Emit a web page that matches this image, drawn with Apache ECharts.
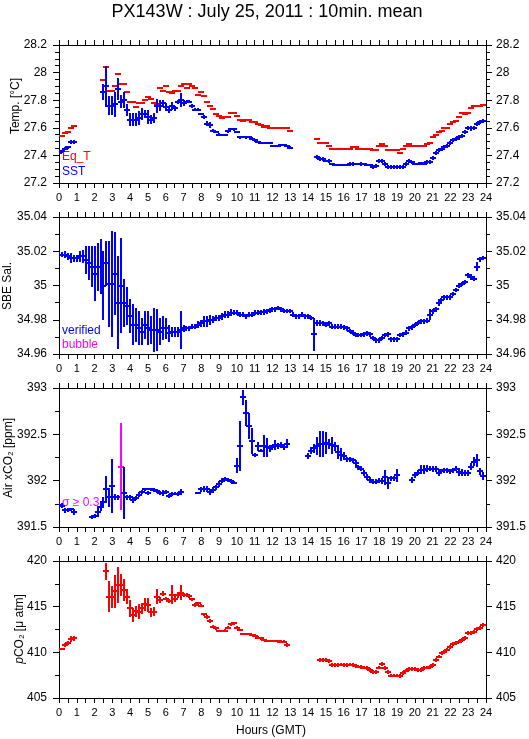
<!DOCTYPE html>
<html>
<head>
<meta charset="utf-8">
<script src="https://cdn.jsdelivr.net/npm/echarts@6/dist/echarts.min.js"></script>
<style>
  html, body { margin: 0; padding: 0; background: #fff; }
  #chart { width: 529px; height: 739px; }
</style>
</head>
<body>
<div id="chart"></div>
<script>
// 10 minute means, index k -> hour k/6 (144 slots, null = no data)
var STEP = 1 / 6;

var eqT = [
  27.54, 27.54, 27.56, 27.57, 27.60, 27.61, null, null, null, null, null, null,
  null, null, null, 27.95, 28.04, 27.87, 27.87, 27.905, 27.99, 27.92, 27.92, 27.86,
  27.79, 27.785, 27.75, 27.78, 27.78, 27.805, 27.825, 27.81, 27.78, 27.775, 27.885, 27.865,
  27.905, 27.86, 27.85, 27.87, 27.865, 27.905, 27.92, 27.89, 27.915, 27.905, 27.887, 27.835,
  27.86, 27.827, 27.79, 27.757, 27.733, 27.70, 27.685, 27.67, 27.675, 27.675, 27.71, 27.71,
  27.685, 27.66, 27.65, 27.655, 27.655, 27.64, 27.64, 27.625, 27.62, 27.605, 27.61, 27.595,
  27.595, 27.595, 27.60, 27.60, 27.595, 27.595, 27.575, null, null, null, null, null,
  null, null, null, 27.517, 27.49, 27.49, 27.49, 27.47, 27.45, 27.45, 27.45, 27.45,
  27.45, 27.45, 27.45, 27.46, 27.46, 27.45, 27.45, 27.45, 27.445, 27.445, 27.437, 27.437,
  27.47, 27.485, 27.465, 27.437, 27.437, 27.437, 27.437, 27.42, 27.445, 27.465, 27.485, 27.47,
  27.465, 27.465, 27.465, 27.465, 27.48, 27.49, 27.535, 27.55, 27.57, 27.58, 27.595, 27.60,
  27.625, 27.645, 27.65, 27.68, 27.71, 27.70, 27.71, 27.74, 27.755, 27.76, 27.76, 27.765
];

var sst = [
  27.42, 27.43, 27.45, 27.46, 27.50, 27.50, null, null, null, null, null, null,
  null, null, null, 27.86, 27.90, 27.76, 27.76, 27.77, 27.88, 27.79, 27.80, 27.73,
  27.66, 27.66, 27.66, 27.67, 27.70, 27.70, 27.68, 27.66, 27.67, 27.76, 27.76, 27.78,
  27.75, 27.73, 27.76, 27.74, 27.79, 27.80, 27.78, 27.79, 27.79, 27.76, 27.73, 27.73,
  27.70, 27.68, 27.63, 27.62, 27.58, 27.57, 27.55, 27.55, 27.55, 27.575, 27.59, 27.59,
  27.57, 27.53, 27.53, 27.53, 27.53, 27.52, 27.51, 27.50, 27.49, 27.49, 27.49, 27.49,
  27.47, 27.47, 27.47, 27.475, 27.475, 27.47, 27.455, null, null, null, null, null,
  null, null, null, 27.39, 27.375, 27.375, 27.36, 27.36, 27.335, 27.333, 27.333, 27.333,
  27.333, 27.333, 27.34, 27.34, 27.335, 27.335, 27.34, 27.335, 27.333, 27.33, 27.315, 27.325,
  27.36, 27.36, 27.34, 27.315, 27.315, 27.315, 27.315, 27.315, 27.315, 27.335, 27.36, 27.35,
  27.34, 27.34, 27.345, 27.34, 27.35, 27.355, 27.38, 27.42, 27.44, 27.445, 27.46, 27.47,
  27.49, 27.51, 27.52, 27.53, 27.54, 27.57, 27.60, 27.595, 27.60, 27.63, 27.645, 27.65
];
var sstSd = [
  0.01, 0.01, 0.01, 0.01, 0.015, 0.015, null, null, null, null, null, null,
  null, null, null, 0.06, 0.15, 0.07, 0.07, 0.09, 0.08, 0.05, 0.06, 0.045,
  0.05, 0.045, 0.045, 0.05, 0.04, 0.03, 0.05, 0.03, 0.035, 0.05, 0.04, 0.02,
  0.03, 0.02, 0.03, 0.02, 0.015, 0.05, 0.02, 0.01, 0.01, 0.015, 0.01, 0.01,
  0.01, 0.015, 0.02, 0.02, 0.01, 0.01, 0.01, 0.005, 0.005, 0.01, 0.005, 0.01,
  0.01, 0.01, 0, 0.01, 0, 0.01, 0.01, 0, 0.01, 0.01, 0.01, 0.01,
  0, 0, 0, 0.01, 0.01, 0, 0.012, null, null, null, null, null,
  null, null, null, 0.015, 0.015, 0.015, 0.01, 0.015, 0, 0, 0, 0,
  0, 0, 0.015, 0.015, 0, 0, 0.015, 0, 0, 0.01, 0.015, 0.015,
  0.015, 0.015, 0.015, 0.012, 0.012, 0.012, 0.012, 0.012, 0.012, 0.015, 0.015, 0.01,
  0, 0, 0, 0, 0.015, 0.015, 0.015, 0.015, 0.015, 0.015, 0.015, 0.015,
  0.015, 0.015, 0.015, 0.015, 0.015, 0.015, 0.015, 0.015, 0.015, 0.015, 0.015, 0.015
];

var sal = [
  35.018, 35.018, 35.018, 35.017, 35.016, 35.016, 35.016, 35.017, 35.017, 35.015, 35.013, 35.011,
  35.007, 35.011, 35.011, 35.000, 35.013, 35.001, 35.001, 35.007, 34.990, 35.000, 34.990, 34.988,
  34.982, 34.977, 34.977, 34.975, 34.973, 34.977, 34.975, 34.974, 34.974, 34.974, 34.973, 34.975,
  34.975, 34.972, 34.973, 34.973, 34.973, 34.974, 34.975, 34.975, 34.975, 34.976, 34.976, 34.977,
  34.978, 34.979, 34.979, 34.980, 34.980, 34.981, 34.981, 34.982, 34.983, 34.983, 34.984, 34.984,
  34.984, 34.983, 34.983, 34.982, 34.983, 34.983, 34.984, 34.984, 34.9843, 34.9845, 34.985, 34.9855,
  34.986, 34.986, 34.987, 34.986, 34.985, 34.985, 34.985, 34.983, 34.982, 34.982, 34.983, 34.982,
  34.982, 34.981, 34.9715, 34.978, 34.978, 34.978, 34.977, 34.978, 34.976, 34.976, 34.976, 34.976,
  34.9755, 34.975, 34.9735, 34.9725, 34.971, 34.971, 34.971, 34.9715, 34.972, 34.9715, 34.9695, 34.968,
  34.968, 34.9695, 34.971, 34.9715, 34.9685, 34.9685, 34.9685, 34.971, 34.9715, 34.9725, 34.975, 34.9755,
  34.977, 34.978, 34.979, 34.979, 34.9795, 34.983, 34.985, 34.986, 34.9895, 34.9915, 34.993, 34.993,
  34.993, 34.995, 34.9973, 35.000, 35.001, 35.002, 35.006, 35.005, 35.004, 35.011, 35.0153, 35.016
];
var salSd = [
  0.0013, 0.0013, 0.002, 0.002, 0.003, 0.002, 0.002, 0.003, 0.004, 0.008, 0.010, 0.012,
  0.016, 0.014, 0.016, 0.020, 0.013, 0.025, 0.031, 0.024, 0.027, 0.028, 0.014, 0.011,
  0.010, 0.012, 0.010, 0.010, 0.008, 0.008, 0.010, 0.008, 0.013, 0.012, 0.008, 0.007,
  0.006, 0.005, 0.003, 0.003, 0.003, 0.011, 0.002, 0.0015, 0.0015, 0.0015, 0.0015, 0.002,
  0.002, 0.003, 0.003, 0.003, 0.002, 0.002, 0.002, 0.002, 0.002, 0.002, 0.002, 0.0015,
  0.0015, 0.0015, 0.0015, 0.0015, 0.0015, 0.0015, 0.0015, 0.0015, 0.0015, 0.0015, 0.0015, 0.0015,
  0.0013, 0.0013, 0.0013, 0.0013, 0.0013, 0.0013, 0.0013, 0.0013, 0.0013, 0.0013, 0.0013, 0.0013,
  0.0013, 0.0013, 0.0095, 0.0018, 0.0018, 0.0015, 0.0015, 0.0015, 0.0013, 0.0013, 0.0013, 0.0013,
  0.0013, 0.0013, 0.0013, 0.0013, 0.0013, 0.0013, 0.0013, 0.0013, 0.0013, 0.0013, 0.0013, 0.0013,
  0.0013, 0.0013, 0.0013, 0.0013, 0.0013, 0.0013, 0.0013, 0.0013, 0.0013, 0.0013, 0.0013, 0.0013,
  0.0013, 0.0013, 0.0013, 0.0013, 0.0013, 0.003, 0.0015, 0.0013, 0.0015, 0.0013, 0.0013, 0.0013,
  0.0013, 0.0013, 0.0013, 0.0013, 0.0013, 0.0013, 0.0015, 0.0015, 0.0015, 0.0025, 0.0015, 0.0013
];

var xco2 = [
  391.736, 391.73, 391.68, 391.68, 391.69, 391.66, null, null, null, null, null, 391.61,
  391.62, 391.663, 391.717, 391.77, 391.905, 391.82, 391.94, 391.826, 391.82, 392.15, 391.87, 391.82,
  391.82, 391.79, 391.81, 391.85, 391.88, 391.905, 391.87, 391.905, 391.90, 391.89, 391.865, 391.865,
  391.88, 391.833, 391.855, 391.86, 391.855, 391.88, null, null, null, null, null, 391.862,
  391.905, 391.91, 391.91, 391.875, 391.90, 391.927, 391.964, 392.0, 392.017, 392.01, 392.0, 391.98,
  392.16, 392.37, 392.9, 392.73, 392.585, 392.43, 392.28, 392.37, 392.325, 392.375, 392.36, 392.35,
  392.36, 392.386, 392.375, 392.386, 392.36, 392.40, null, null, null, null, null, null,
  392.267, 392.325, 392.35, 392.375, 392.397, 392.40, 392.41, 392.397, 392.38, 392.37, 392.31, 392.28,
  392.267, 392.23, 392.23, 392.22, 392.187, 392.144, 392.13, 392.08, 392.04, 392.007, 391.99, 391.99,
  392.0, 391.995, 392.035, 391.97, 392.025, 392.025, 392.06, null, null, null, null, 392.007,
  392.06, 392.086, 392.12, 392.12, 392.13, 392.13, 392.125, 392.125, 392.086, 392.10, 392.11, 392.11,
  392.10, 392.11, 392.13, 392.095, 392.086, 392.08, 392.08, 392.15, 392.205, 392.22, 392.10, 392.05
];
var xco2Sd = [
  0.05, 0.03, 0.03, 0.02, 0.02, 0.03, null, null, null, null, null, 0.02,
  0.02, 0.06, 0.04, 0.05, 0.15, 0.10, 0.29, 0.03, 0.03, 0.47, 0.28, 0.03,
  0.03, 0.03, 0.02, 0.03, 0.02, 0.02, 0.02, 0.02, 0.02, 0.02, 0.02, 0.03,
  0.02, 0.02, 0.02, 0.02, 0.02, 0.03, null, null, null, null, null, 0.01,
  0.03, 0.03, 0.03, 0.03, 0.03, 0.03, 0.03, 0.03, 0.02, 0.02, 0.02, 0.02,
  0.08, 0.27, 0.08, 0.14, 0.14, 0.14, 0.02, 0.05, 0.02, 0.12, 0.10, 0.04,
  0.03, 0.05, 0.03, 0.03, 0.03, 0.05, null, null, null, null, null, null,
  0.03, 0.04, 0.05, 0.10, 0.14, 0.14, 0.12, 0.05, 0.09, 0.05, 0.08, 0.07,
  0.04, 0.03, 0.03, 0.03, 0.04, 0.03, 0.03, 0.03, 0.03, 0.03, 0.03, 0.03,
  0.03, 0.03, 0.08, 0.06, 0.03, 0.03, 0.07, null, null, null, null, 0.03,
  0.03, 0.03, 0.05, 0.05, 0.04, 0.03, 0.03, 0.03, 0.04, 0.03, 0.03, 0.03,
  0.03, 0.03, 0.03, 0.04, 0.04, 0.03, 0.03, 0.04, 0.05, 0.07, 0.04, 0.04
];

var pco2 = [
  410.33, 410.33, 410.8, 410.99, 411.46, 411.53, null, null, null, null, null, null,
  null, null, null, null, 418.87, 416.08, 416.08, 416.7, 417.35, 417.35, 416.8, 416.08,
  414.8, 414.08, 414.5, 414.44, 414.8, 415.24, 415.17, 414.37, 414.44, 416.08, 415.71, 416.44,
  415.89, 415.6, 416.33, 415.82, 416.26, 416.55, 416.26, 416.33, 416.15, 415.82, 415.17, 415.35,
  415.1, 414.15, 413.9, 413.42, 412.8, 412.62, 412.33, 412.33, 412.36, 412.7, 413.06, 413.17,
  412.7, 412.44, 412.0, 412.0, 412.0, 411.9, 411.82, 411.6, 411.53, 411.35, 411.24, 411.24,
  411.24, 411.24, 411.2, 411.17, 411.17, 410.8, null, null, null, null, null, null,
  null, null, null, null, 409.17, 409.17, 409.17, 409.06, 408.63, 408.63, 408.63, 408.65,
  408.63, 408.63, 408.65, 408.63, 408.55, 408.44, 408.4, 408.33, 408.26, 408.08, 407.83, 407.83,
  408.33, 408.7, 408.26, 407.83, 407.46, 407.46, 407.46, 407.39, 407.75, 408.0, 408.19, 408.19,
  408.19, 408.08, 408.08, 408.26, 408.33, 408.4, 408.63, 409.17, 409.53, 409.9, 410.08, 410.3,
  410.55, 410.88, 410.99, 411.17, 411.35, 411.6, 412.15, 412.15, 412.2, 412.55, 412.7, 412.99
];
var pco2Sd = [
  0.15, 0.1, 0.2, 0.2, 0.3, 0.3, null, null, null, null, null, null,
  null, null, null, null, 0.9, 1.7, 1.2, 1.8, 2.0, 1.2, 1.2, 0.8,
  0.9, 0.8, 0.6, 0.8, 0.6, 0.7, 0.8, 0.5, 0.5, 0.8, 0.3, 0.3,
  0.2, 0.2, 1.0, 0.3, 0.3, 0.8, 0.2, 0.15, 0.15, 0.15, 0.2, 0.2,
  0.15, 0.2, 0.2, 0.2, 0.15, 0.15, 0.15, 0.15, 0.15, 0.15, 0.15, 0.15,
  0.15, 0.15, 0.15, 0.15, 0.15, 0.15, 0.15, 0.15, 0.15, 0.15, 0.15, 0.15,
  0.15, 0.15, 0.15, 0.15, 0.15, 0.2, null, null, null, null, null, null,
  null, null, null, null, 0.2, 0.2, 0.2, 0.2, 0.2, 0.2, 0.2, 0.2,
  0.2, 0.2, 0.2, 0.2, 0.2, 0.2, 0.2, 0.2, 0.2, 0.2, 0.2, 0.2,
  0.2, 0.2, 0.2, 0.2, 0.2, 0.2, 0.2, 0.2, 0.2, 0.2, 0.2, 0.2,
  0.2, 0.2, 0.2, 0.2, 0.2, 0.2, 0.2, 0.2, 0.2, 0.2, 0.2, 0.2,
  0.2, 0.2, 0.2, 0.2, 0.2, 0.2, 0.2, 0.2, 0.2, 0.2, 0.2, 0.2
];

// axis ranges per panel: [min, max, interval, minor splits]
var tempAxis = [27.2, 28.2, 0.2, 4];
var salAxis = [34.96, 35.04, 0.02, 2];
var xco2Axis = [391.5, 393, 0.5, 2];
var pco2Axis = [405, 420, 5, 2];
var hourAxis = [0, 24, 1];

var FONT = '"Liberation Sans", Arial, Helvetica, sans-serif';
var BLUE = '#0000ff', RED = '#ff0000', MAGENTA = '#ff00ff';

function points(vals, sds) {
  var out = [];
  vals.forEach(function (v, k) {
    if (v != null) out.push([k * STEP, v, sds ? sds[k] : 0]);
  });
  return out;
}

// horizontal dash at the mean plus a vertical bar for +-sd (snapped to pixels)
function marker(color, half, flagColor, flagAt) {
  return function (params, api) {
    var x = api.value(0), y = api.value(1), e = api.value(2);
    var c = api.coord([x, y]);
    var cx = Math.round(c[0]), cy = Math.round(c[1]);
    var col = (flagColor && e >= flagAt) ? flagColor : color;
    var kids = [{
      type: 'line',
      shape: { x1: cx - half, y1: cy, x2: cx + half, y2: cy },
      style: { stroke: col, lineWidth: 2 }
    }];
    if (e > 0) {
      var t = api.coord([x, y + e]), b = api.coord([x, y - e]);
      kids.push({
        type: 'line',
        shape: { x1: cx, y1: Math.round(t[1]), x2: cx, y2: Math.round(b[1]) },
        style: { stroke: col, lineWidth: 2 }
      });
    }
    return { type: 'group', children: kids };
  };
}

var grids = [
  { left: 59, right: 43, top: 45, height: 138 },
  { left: 59, right: 43, top: 217, height: 137 },
  { left: 59, right: 43, top: 388, height: 139 },
  { left: 59, right: 43, top: 561, height: 137 }
];
var yRanges = [tempAxis, salAxis, xco2Axis, pco2Axis];

var xAxes = [], yAxes = [];
grids.forEach(function (g, i) {
  ['bottom', 'top'].forEach(function (pos) {
    xAxes.push({
      gridIndex: i, type: 'value', position: pos,
      min: hourAxis[0], max: hourAxis[1], interval: hourAxis[2],
      axisLine: { show: true, onZero: false, lineStyle: { color: '#000', width: 1 } },
      axisTick: { show: true, length: 5, lineStyle: { color: '#000' } },
      minorTick: { show: true, splitNumber: 2, length: 5, lineStyle: { color: '#000' } },
      splitLine: { show: false },
      axisLabel: {
        show: pos === 'bottom', interval: 0, margin: 9, hideOverlap: false,
        color: '#000', fontSize: 11, fontFamily: FONT
      }
    });
  });
  var r = yRanges[i];
  ['left', 'right'].forEach(function (pos) {
    yAxes.push({
      gridIndex: i, type: 'value', position: pos,
      min: r[0], max: r[1], interval: r[2],
      axisLine: { show: true, onZero: false, lineStyle: { color: '#000', width: 1 } },
      axisTick: { show: true, length: 6, lineStyle: { color: '#000' } },
      minorTick: { show: true, splitNumber: r[3], length: 4, lineStyle: { color: '#000' } },
      splitLine: { show: false },
      axisLabel: {
        margin: pos === 'left' ? 12 : 10,
        color: '#000', fontSize: 12, fontFamily: FONT
      }
    });
  });
});

function custom(idx, data, render) {
  return {
    type: 'custom', xAxisIndex: idx * 2, yAxisIndex: idx * 2,
    clip: true, renderItem: render, data: data,
    encode: { x: 0, y: 1 }, silent: true
  };
}

var series = [
  custom(0, points(eqT), marker(RED, 3)),
  custom(0, points(sst, sstSd), marker(BLUE, 3)),
  custom(1, points(sal, salSd), marker(BLUE, 3)),
  custom(2, points(xco2, xco2Sd), marker(BLUE, 3, MAGENTA, 0.3)),
  custom(3, points(pco2, pco2Sd), marker(RED, 3))
];

function txt(x, y, text, color) {
  return {
    type: 'text', x: x, y: y, silent: true,
    style: { text: text, fill: color, font: '12px ' + FONT }
  };
}
function vname(x, y, text, rich) {
  return {
    type: 'text', x: x, y: y, rotation: Math.PI / 2, silent: true,
    style: {
      text: text, fill: '#000', font: '12px ' + FONT,
      align: 'center', verticalAlign: 'middle', rich: rich
    }
  };
}

var graphic = [
  {
    type: 'text', x: 267, y: 12, silent: true,
    style: { text: 'PX143W : July 25, 2011 : 10min. mean', fill: '#000',
      font: '18px ' + FONT, align: 'center', verticalAlign: 'middle' }
  },
  vname(16, 106, 'Temp. [°C]'),
  vname(8, 286, 'SBE Sal.'),
  vname(9, 458, 'Air xCO₂ [ppm]'),
  vname(20, 629, '{i|p}CO₂ [μ atm]', { i: { fontStyle: 'italic', fontSize: 12, fontFamily: FONT } }),
  txt(62, 151, 'Eq_T', RED),
  txt(62, 166, 'SST', BLUE),
  txt(62, 325, 'verified', BLUE),
  txt(62, 339, 'bubble', MAGENTA),
  txt(62, 497, 'σ ≥ 0.3', MAGENTA),
  {
    type: 'text', x: 271, y: 731, silent: true,
    style: { text: 'Hours (GMT)', fill: '#000', font: '12px ' + FONT,
      align: 'center', verticalAlign: 'middle' }
  }
];

var chart = echarts.init(document.getElementById('chart'), null, { renderer: 'canvas' });
chart.setOption({
  animation: false,
  backgroundColor: '#fff',
  grid: grids,
  xAxis: xAxes,
  yAxis: yAxes,
  series: series,
  graphic: graphic
});
</script>
</body>
</html>
